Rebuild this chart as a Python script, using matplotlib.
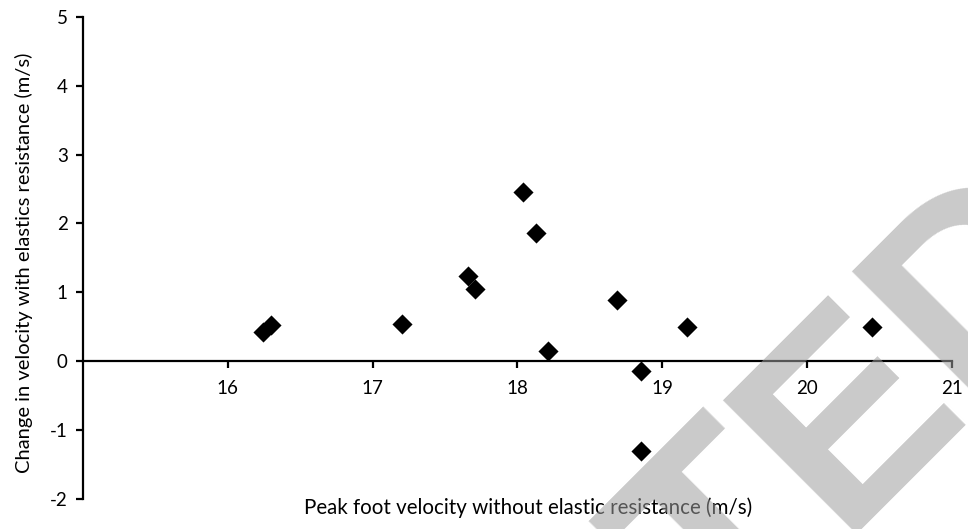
import matplotlib
matplotlib.use("Agg")
import matplotlib.pyplot as plt

plt.rcParams['font.family'] = ['Lato', 'DejaVu Sans']

# peak foot velocity (m/s) and change in velocity (m/s)
peak_velocity = [16.24, 16.30, 17.20, 17.66, 17.71, 18.04, 18.13, 18.21,
                 18.69, 18.85, 18.85, 19.17, 20.45]
velocity_change = [0.42, 0.52, 0.54, 1.23, 1.05, 2.46, 1.86, 0.14,
                   0.88, -0.14, -1.31, 0.50, 0.49]

x_ticks = [16, 17, 18, 19, 20, 21]
y_ticks = [-2, -1, 0, 1, 2, 3, 4, 5]

fig = plt.figure(figsize=(9.68, 5.29), dpi=100)
ax = fig.add_axes([0.0857, 0.0575, 0.8978, 0.9105])

ax.scatter(peak_velocity, velocity_change, marker='D', s=105, color='black',
           zorder=3, linewidths=0)

ax.set_xlim(15, 21)
ax.set_ylim(-2, 5)
ax.set_xticks(x_ticks)
ax.set_yticks(y_ticks)
ax.set_yticklabels([str(t) for t in y_ticks])

ax.spines['top'].set_visible(False)
ax.spines['right'].set_visible(False)
ax.spines['bottom'].set_position(('data', 0))
ax.spines['left'].set_linewidth(1.6)
ax.spines['bottom'].set_linewidth(1.6)
ax.tick_params(axis='both', direction='out', length=5, width=1.6,
               labelsize=13.5, pad=6)
ax.tick_params(axis='x', pad=9)

fig.text(0.025, 0.503, 'Change in velocity with elastics resistance (m/s)',
         rotation=90, ha='center', va='center', fontsize=14.5)
fig.text(0.546, 0.04, 'Peak foot velocity without elastic resistance (m/s)',
         ha='center', va='center', fontsize=14.8)

# watermark, split at the E so its place can be set directly
wm = dict(rotation=45, rotation_mode='anchor', va='baseline', fontsize=198,
          color='#9e9e9e', alpha=0.55, family='Liberation Sans',
          weight='bold', zorder=10)
fig.text(0.866, -0.009, 'ACCEPT', ha='right', **wm)
fig.text(0.866, -0.009, 'ED', ha='left', **wm)

plt.savefig('out.png', dpi=100)
